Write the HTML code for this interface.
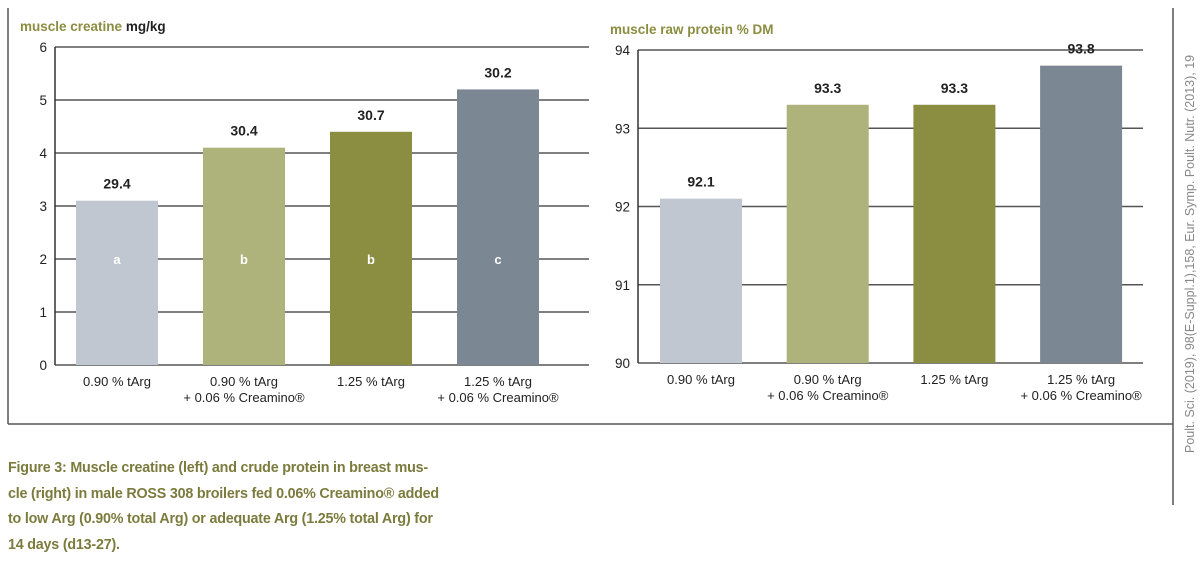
<!DOCTYPE html>
<html><head><meta charset="utf-8"><style>
body{margin:0;background:#fff;}
#wrap{position:relative;width:1200px;height:561px;background:#fff;font-family:"Liberation Sans",sans-serif;overflow:hidden}
.cap{position:absolute;left:8px;top:456px;font-size:14.3px;font-weight:bold;color:#7b7b3e;line-height:25.5px;letter-spacing:-0.2px}
.cite{position:absolute;left:1183px;top:453px;transform-origin:0 0;transform:rotate(-90deg);font-size:12.5px;color:#888;white-space:nowrap}
</style></head><body>
<div id="wrap">
<svg width="1200" height="561" style="position:absolute;left:0;top:0">
<line x1="8" y1="8" x2="8" y2="424" stroke="#555" stroke-width="1.5"/>
<line x1="8" y1="424" x2="1173" y2="424" stroke="#555" stroke-width="1.5"/>
<line x1="1173" y1="8" x2="1173" y2="505" stroke="#555" stroke-width="1.5"/>
<g id="left"></g>
<g id="right"></g>
</svg>
<div class="cap">Figure 3: Muscle creatine (left) and crude protein in breast mus-<br>cle (right) in male ROSS 308 broilers fed 0.06% Creamino® added<br>to low Arg (0.90% total Arg) or adequate Arg (1.25% total Arg) for<br>14 days (d13-27).</div>
<div class="cite">Poult. Sci. (2019), 98(E-Suppl.1),158, Eur. Symp. Poult. Nutr. (2013), 19</div>
</div>
<script>
const categories=[["0.90 % tArg"],["0.90 % tArg","+ 0.06 % Creamino®"],["1.25 % tArg"],["1.25 % tArg","+ 0.06 % Creamino®"]];
const colors=["#c1c7d1","#adb37a","#8b8d40","#7b8792"];
const creatineValues=[3.1,4.1,4.4,5.2];
const creatineLabels=["29.4","30.4","30.7","30.2"];
const creatineLetters=["a","b","b","c"];
const creatineTicks=[0,1,2,3,4,5,6];
const proteinValues=[92.1,93.3,93.3,93.8];
const proteinLabels=["92.1","93.3","93.3","93.8"];
const proteinTicks=[90,91,92,93,94];
const NS="http://www.w3.org/2000/svg";
function mk(p,t,a,txt){const e=document.createElementNS(NS,t);for(const k in a)e.setAttribute(k,a[k]);if(txt!==undefined)e.textContent=txt;p.appendChild(e);return e;}
function chart(g,cfg){
  const y=v=>cfg.y0-(v-cfg.min)/(cfg.max-cfg.min)*(cfg.y0-cfg.y1);
  const t=mk(g,"text",{x:cfg.tx,y:cfg.y1-16,"font-size":"13.5","font-weight":"bold",fill:"#8b8d40"});
  
  
  mk(t,"tspan",{},cfg.title);
  if(cfg.unit){const u=mk(t,"tspan",{fill:"#222"},cfg.unit);}
  cfg.ticks.forEach(v=>{
    const l=mk(g,"line",{x1:cfg.ax,x2:cfg.ax2,y1:y(v),y2:y(v),stroke:"#555","stroke-width":"1.5"});
    
    
    const tl=mk(g,"text",{x:cfg.ax-8,y:y(v)+5,"text-anchor":"end","font-size":"13.5",fill:"#222"},String(v));
    
    
  });
  const ax=mk(g,"line",{x1:cfg.ax,x2:cfg.ax,y1:cfg.y1,y2:cfg.y0,stroke:"#333","stroke-width":"1.5"});
  
  
  cfg.values.forEach((v,i)=>{
    const cx=cfg.bx+i*cfg.step, w=82;
    const r=mk(g,"rect",{x:cx-w/2,y:y(v),width:w,height:cfg.y0-y(v),fill:colors[i]});
    
    
    const lb=mk(g,"text",{x:cx,y:y(v)-12,"text-anchor":"middle","font-size":"14","font-weight":"bold",fill:"#222"},cfg.labels[i]);
    
    
    if(cfg.letters){const le=mk(g,"text",{x:cx,y:y(2)+5,"text-anchor":"middle","font-size":"13","font-weight":"bold",fill:"#fff"},cfg.letters[i]);
      
      }
    categories[i].forEach((s,j)=>{
      const c=mk(g,"text",{x:cx,y:cfg.y0+21+j*16,"text-anchor":"middle","font-size":"13",fill:"#222"},s);
      
      
    });
  });
}
chart(document.getElementById("left"),{title:"muscle creatine ",unit:"mg/kg",tx:20,min:0,max:6,y0:365,y1:47,ax:55,ax2:589,bx:117,step:127,values:creatineValues,labels:creatineLabels,letters:creatineLetters,ticks:creatineTicks});
chart(document.getElementById("right"),{title:"muscle raw protein % DM",unit:"",tx:610,min:90,max:94,y0:363,y1:50,ax:638,ax2:1143,bx:701,step:126.7,values:proteinValues,labels:proteinLabels,ticks:proteinTicks});
</script>
</body></html>
